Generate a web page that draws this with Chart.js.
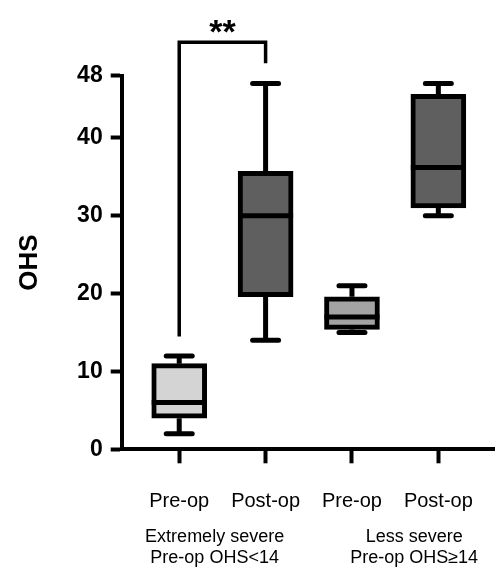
<!DOCTYPE html>
<html>
<head>
<meta charset="utf-8">
<script src="https://cdn.jsdelivr.net/npm/chart.js@4.4.1/dist/chart.umd.min.js"></script>
<style>
  html, body { margin: 0; padding: 0; background: #fff; }
</style>
</head>
<body>
<canvas id="ohsChart" width="495" height="567"></canvas>
<script>
// box plot values
const categories = ['Pre-op', 'Post-op', 'Pre-op', 'Post-op'];
const groupLabels = [['Extremely severe', 'Pre-op OHS<14'], ['Less severe', 'Pre-op OHS\u226514']];
const whiskerMin = [2, 14, 15, 30];
const boxLow = [4, 19.6, 15.4, 31];
const medians = [6, 30, 17, 36.2];
const boxHigh = [11, 35.7, 19.6, 45.6];
const whiskerMax = [12, 47, 21, 47];
const yTicks = [0, 10, 20, 30, 40, 48];
const boxColors = ['#d4d4d4', '#5f5f5f', '#a3a3a3', '#5f5f5f'];
const sigLabel = '**';

const FONT = '"Liberation Sans", Arial, sans-serif';

const boxPlotExtras = {
    id: 'boxPlotExtras',
    afterDatasetsDraw(chart) {
        const ctx = chart.ctx;
        const xs = chart.scales.x;
        const ys = chart.scales.y;
        const bars = chart.getDatasetMeta(0).data;
        ctx.save();
        ctx.strokeStyle = '#000';
        ctx.lineWidth = 5;
        bars.forEach((bar, i) => {
            const cx = xs.getPixelForValue(i + 1);
            const half = bar.width / 2;
            const yMax = ys.getPixelForValue(whiskerMax[i]);
            const yMin = ys.getPixelForValue(whiskerMin[i]);
            // whisker stems
            ctx.lineCap = 'butt';
            ctx.beginPath();
            ctx.moveTo(cx, ys.getPixelForValue(boxHigh[i]));
            ctx.lineTo(cx, yMax);
            ctx.moveTo(cx, ys.getPixelForValue(boxLow[i]));
            ctx.lineTo(cx, yMin);
            ctx.stroke();
            // caps
            ctx.lineCap = 'round';
            ctx.beginPath();
            ctx.moveTo(cx - 13, yMax);
            ctx.lineTo(cx + 13, yMax);
            ctx.moveTo(cx - 13, yMin);
            ctx.lineTo(cx + 13, yMin);
            ctx.stroke();
            // median
            ctx.lineCap = 'butt';
            const ym = ys.getPixelForValue(medians[i]);
            ctx.beginPath();
            ctx.moveTo(cx - half, ym);
            ctx.lineTo(cx + half, ym);
            ctx.stroke();
        });
        ctx.restore();
    },
    afterDraw(chart) {
        const ctx = chart.ctx;
        const xs = chart.scales.x;
        const ys = chart.scales.y;
        ctx.save();

        // significance bracket between the first two boxes
        const xl = xs.getPixelForValue(1);
        const xr = xs.getPixelForValue(2);
        const top = ys.getPixelForValue(52.3);
        ctx.strokeStyle = '#000';
        ctx.lineWidth = 3.5;
        ctx.lineJoin = 'miter';
        ctx.beginPath();
        ctx.moveTo(xl, ys.getPixelForValue(14.5));
        ctx.lineTo(xl, top);
        ctx.lineTo(xr, top);
        ctx.lineTo(xr, ys.getPixelForValue(49.6));
        ctx.stroke();

        ctx.fillStyle = '#000';
        ctx.textAlign = 'center';
        ctx.textBaseline = 'alphabetic';
        ctx.font = 'bold 34px ' + FONT;
        ctx.fillText(sigLabel, (xl + xr) / 2, top + 1);

        // group captions under the tick labels
        ctx.textBaseline = 'middle';
        ctx.font = '18px ' + FONT;
        const groupCenters = [1.41, 3.72];
        groupLabels.forEach((lines, g) => {
            const gx = xs.getPixelForValue(groupCenters[g]);
            lines.forEach((line, k) => {
                ctx.fillText(line, gx, xs.top + 87.5 + k * 21.6);
            });
        });
        ctx.restore();
    }
};

new Chart(document.getElementById('ohsChart'), {
    type: 'bar',
    data: {
        datasets: [{
            data: categories.map((c, i) => ({ x: i + 1, y: [boxLow[i], boxHigh[i]] })),
            backgroundColor: boxColors,
            borderColor: '#000',
            borderWidth: 5,
            borderSkipped: false,
            barThickness: 55
        }]
    },
    options: {
        responsive: false,
        animation: false,
        layout: {
            padding: { top: 75.7, right: 0, bottom: 0, left: 0 }
        },
        plugins: {
            legend: { display: false },
            tooltip: { enabled: false }
        },
        scales: {
            x: {
                type: 'linear',
                min: 0.334,
                max: 4.656,
                offset: false,
                afterBuildTicks: (scale) => {
                    scale.ticks = categories.map((c, i) => ({ value: i + 1 }));
                },
                afterFit: (scale) => {
                    scale.height = 117.7;
                    scale.paddingLeft = 0;
                    scale.paddingRight = 0;
                },
                grid: {
                    offset: false,
                    drawOnChartArea: false,
                    tickLength: 14,
                    tickWidth: 4,
                    tickColor: '#000'
                },
                border: { color: '#000', width: 4 },
                ticks: {
                    color: '#000',
                    padding: 26,
                    maxRotation: 0,
                    font: { family: FONT, size: 20 },
                    callback: (v) => categories[v - 1] || ''
                }
            },
            y: {
                min: 0,
                max: 48,
                afterBuildTicks: (scale) => {
                    scale.ticks = yTicks.map(v => ({ value: v }));
                },
                afterFit: (scale) => {
                    scale.width = 121.7;
                    scale.paddingTop = 0;
                    scale.paddingBottom = 0;
                },
                grid: {
                    drawOnChartArea: false,
                    tickLength: 11,
                    tickWidth: 4,
                    tickColor: '#000'
                },
                border: { color: '#000', width: 4 },
                ticks: {
                    color: '#000',
                    padding: 8,
                    font: { family: FONT, size: 23, weight: 'bold' }
                },
                title: {
                    display: true,
                    text: 'OHS',
                    color: '#000',
                    padding: { top: 14, bottom: 0 },
                    font: { family: FONT, size: 26, weight: 'bold' }
                }
            }
        }
    },
    plugins: [boxPlotExtras]
});
</script>
</body>
</html>
